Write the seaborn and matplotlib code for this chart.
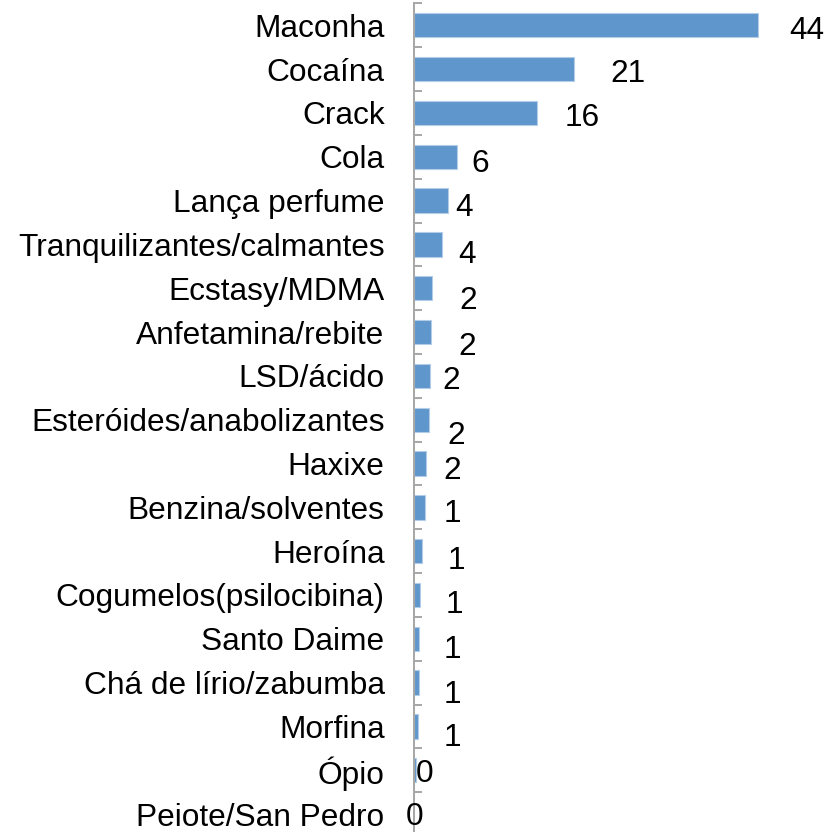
import matplotlib
matplotlib.use('Agg')
import matplotlib.pyplot as plt
import numpy as np
import pandas as pd
import seaborn as sns

# dados
substancias = ['Maconha', 'Cocaína', 'Crack', 'Cola', 'Lança perfume',
               'Tranquilizantes/calmantes', 'Ecstasy/MDMA', 'Anfetamina/rebite',
               'LSD/ácido', 'Esteróides/anabolizantes', 'Haxixe',
               'Benzina/solventes', 'Heroína', 'Cogumelos(psilocibina)',
               'Santo Daime', 'Chá de lírio/zabumba', 'Morfina', 'Ópio',
               'Peiote/San Pedro']
valores = [44.0, 20.45, 15.7, 5.5, 4.35, 3.6, 2.33, 2.2, 2.12, 2.0, 1.6,
           1.4, 1.0, 0.8, 0.64, 0.64, 0.5, 0.3, 0.0]
rotulos = ['44', '21', '16', '6', '4', '4', '2', '2', '2', '2', '2',
           '1', '1', '1', '1', '1', '1', '0', '0']

# deslocamento dos rótulos (pixels) em relação ao fim da barra
desloc = [(48, 2), (54, 1), (45, 2), (23, 4), (16, 4), (25, 7), (36, 9),
          (36, 11), (21, 2), (27, 13), (26, 4), (28, 3), (35, 6), (34, 7),
          (34, 8), (34, 9), (35, 8), (9, 0), (1, -1)]

sns.set_style('white')
plt.rcParams['font.family'] = ['Liberation Sans', 'DejaVu Sans']
plt.rcParams['text.color'] = 'black'
plt.rcParams['ytick.color'] = 'black'

df = pd.DataFrame({'Substancia': substancias, 'Valor': valores})

fig = plt.figure(figsize=(8.29, 8.32), dpi=100)
ax = fig.add_axes([413.7 / 829, -4.0 / 832, 415.3 / 829, 832.6 / 832])

sns.barplot(data=df, x='Valor', y='Substancia', orient='h', color='#5F96CB',
            saturation=1, width=0.555, edgecolor='#B3CCE8', linewidth=0.8, ax=ax)

ax.set_xlim(0, 53)
ax.set_ylim(len(substancias) - 0.5, -0.5)

for i, (v, r) in enumerate(zip(valores, rotulos)):
    dx, dy = desloc[i]
    ax.annotate(r, xy=(v, i), xytext=(dx, -dy), textcoords='offset pixels',
                ha='center', va='center_baseline', fontsize=22.8, color='black')

for s in ['top', 'right', 'bottom']:
    ax.spines[s].set_visible(False)
ax.spines['left'].set_color('#A6A6A6')
ax.spines['left'].set_linewidth(1.4)

ax.set_xticks([])
ax.set_xlabel('')
ax.set_ylabel('')
ax.tick_params(axis='y', which='major', left=True, length=0, pad=21,
               labelsize=22.8, labelcolor='black')
ax.set_yticks(np.arange(-0.5, len(substancias), 1.0), minor=True)
ax.tick_params(axis='y', which='minor', left=True, direction='in', length=6,
               width=1.4, color='#A6A6A6')

fig.savefig('out.png', dpi=100)
